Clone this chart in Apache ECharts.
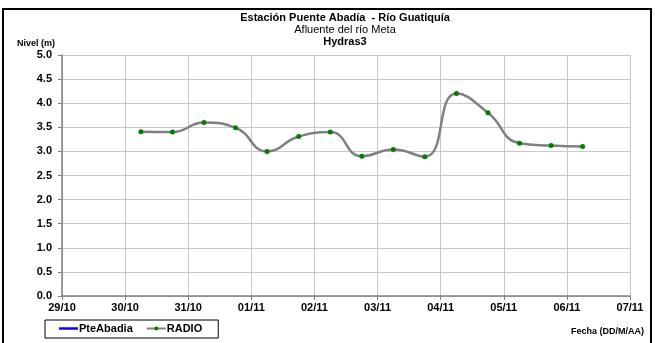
<!DOCTYPE html>
<html>
<head>
<meta charset="utf-8">
<script src="https://cdn.jsdelivr.net/npm/echarts@6/dist/echarts.min.js"></script>
<style>
html,body{margin:0;padding:0;background:#fff;}
#chart{width:655px;height:343px;}
</style>
</head>
<body>
<div id="chart"></div>
<script>
// ---- data ----
var axisStart = '2011-10-29 00:00';
var tickLabels = ['29/10','30/10','31/10','01/11','02/11','03/11','04/11','05/11','06/11','07/11'];
var radioTimes = [
  '2011-10-30 06:00','2011-10-30 18:00',
  '2011-10-31 06:00','2011-10-31 18:00',
  '2011-11-01 06:00','2011-11-01 18:00',
  '2011-11-02 06:00','2011-11-02 18:00',
  '2011-11-03 06:00','2011-11-03 18:00',
  '2011-11-04 06:00','2011-11-04 18:00',
  '2011-11-05 06:00','2011-11-05 18:00',
  '2011-11-06 06:00'
];
var radioValues = [3.41, 3.40, 3.60, 3.49, 3.00, 3.31, 3.40, 2.90, 3.04, 2.89, 4.20, 3.80, 3.17, 3.12, 3.10];
var pteAbadiaValues = [];
var yTicks = [0,0.5,1,1.5,2,2.5,3,3.5,4,4.5,5];

function toMs(s){
  var p = s.split(/[- :]/).map(Number);
  return Date.UTC(p[0], p[1]-1, p[2], p[3], p[4]);
}
var DAY = 86400000;
var base = toMs(axisStart);
var radioData = radioTimes.map(function(t,i){ return [(toMs(t)-base)/DAY, radioValues[i]]; });

var FONT = 'Arial, "Liberation Sans", sans-serif';
var chart = echarts.init(document.getElementById('chart'), null, {renderer:'canvas'});
chart.setOption({
  animation:false,
  backgroundColor:'#fff',
  title:[
    {text:'Estación Puente Abadía  - Río Guatiquía', left:340, top:7, textAlign:'center',
     textStyle:{fontFamily:FONT,fontSize:11,fontWeight:'bold',color:'#000'}},
    {text:'Afluente del río Meta', left:340, top:19, textAlign:'center',
     textStyle:{fontFamily:FONT,fontSize:11,fontWeight:'normal',color:'#000'}},
    {text:'Hydras3', left:340, top:31, textAlign:'center',
     textStyle:{fontFamily:FONT,fontSize:11,fontWeight:'bold',color:'#000'}},
    {text:'Nivel (m)', left:12, top:34,
     textStyle:{fontFamily:FONT,fontSize:9,fontWeight:'bold',color:'#000'}},
    {text:'Fecha (DD/M/AA)', right:6, top:322,
     textStyle:{fontFamily:FONT,fontSize:9,fontWeight:'bold',color:'#000'}}
  ],
  graphic:[
    {type:'rect', shape:{x:3,y:9,width:648,height:345}, style:{fill:null, stroke:'#000', lineWidth:2}, silent:true, z:100}
  ],
  legend:{
    left:45, top:320, orient:'horizontal',
    itemWidth:19, itemHeight:5, itemGap:13,
    padding:[3,16,4,14],
    borderColor:'#000', borderWidth:1,
    textStyle:{fontFamily:FONT,fontSize:11,fontWeight:'bold',color:'#000',padding:[0,0,0,-4]},
    data:[
      {name:'PteAbadia', icon:'path://M0,0 L20,0 L20,2.6 L0,2.6 Z', itemStyle:{color:'#0000ff'}},
      {name:'RADIO'}
    ]
  },
  grid:{left:62, right:25, top:55, bottom:47, containLabel:false},
  xAxis:{
    type:'value', min:0, max:tickLabels.length-1, interval:1,
    axisLine:{show:true,onZero:false,lineStyle:{color:'#808080',width:1.5}},
    axisTick:{show:true,inside:false,length:4,lineStyle:{color:'#808080'}},
    splitLine:{show:true,lineStyle:{color:'#c8c8c8',width:1}},
    axisLabel:{fontFamily:FONT,fontSize:11,fontWeight:'bold',color:'#000',margin:6,
      formatter:function(v){ return tickLabels[Math.round(v)] || ''; }}
  },
  yAxis:{
    type:'value', min:yTicks[0], max:yTicks[yTicks.length-1], interval:0.5,
    axisLine:{show:true,lineStyle:{color:'#808080',width:1.5}},
    axisTick:{show:true,inside:false,length:4,lineStyle:{color:'#808080'}},
    splitLine:{show:true,lineStyle:{color:'#c8c8c8',width:1}},
    axisLabel:{fontFamily:FONT,fontSize:11,fontWeight:'bold',color:'#000',margin:10,
      padding:[3,0,0,0],
      formatter:function(v){ return v.toFixed(1); }}
  },
  series:[
    {name:'PteAbadia', type:'line', data:pteAbadiaValues, symbol:'none',
     lineStyle:{color:'#0000ff',width:2.5}, itemStyle:{color:'#0000ff'}},
    {name:'RADIO', type:'line', data:radioData, smooth:0.5,
     symbol:'circle', symbolSize:5, showSymbol:true,
     lineStyle:{color:'#808080',width:2.5},
     itemStyle:{color:'#008000',borderWidth:0}, z:3}
  ]
});
</script>
</body>
</html>
